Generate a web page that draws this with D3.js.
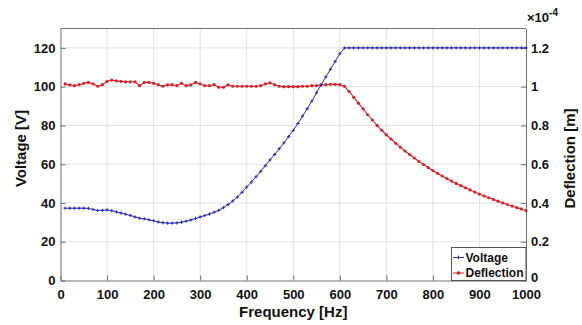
<!DOCTYPE html>
<html>
<head>
<meta charset="utf-8">
<script src="https://cdn.jsdelivr.net/npm/d3@7"></script>
<style>
  html, body { margin: 0; padding: 0; background: #fff; }
  svg { display: block; font-family: "Liberation Sans", Arial, sans-serif; }
</style>
</head>
<body>
<svg id="chart"></svg>
<script>
// ── Data ───────────────────────────────────────────────────────
const freq = [
  10, 20, 30, 40, 50, 60, 70, 80, 90, 100,
  110, 120, 130, 140, 150, 160, 170, 180, 190, 200,
  210, 220, 230, 240, 250, 260, 270, 280, 290, 300,
  310, 320, 330, 340, 350, 360, 370, 380, 390, 400,
  410, 420, 430, 440, 450, 460, 470, 480, 490, 500,
  510, 520, 530, 540, 550, 560, 570, 580, 590, 600,
  610, 620, 630, 640, 650, 660, 670, 680, 690, 700,
  710, 720, 730, 740, 750, 760, 770, 780, 790, 800,
  810, 820, 830, 840, 850, 860, 870, 880, 890, 900,
  910, 920, 930, 940, 950, 960, 970, 980, 990, 1000
];

// Voltage [V]
const voltage = [
  37.3, 37.3, 37.3, 37.3, 37.3, 37.2, 36.6, 36.1, 36.2, 36.4,
  36.0, 35.4, 34.8, 34.2, 33.6, 32.8, 32.1, 31.8, 31.3, 30.8,
  30.2, 29.8, 29.6, 29.6, 29.7, 30.1, 30.6, 31.2, 32.0, 32.8,
  33.5, 34.3, 35.2, 36.2, 37.6, 39.2, 41.0, 43.0, 45.5, 48.2,
  50.8, 53.5, 56.3, 59.2, 62.2, 65.0, 68.0, 71.0, 74.2, 77.5,
  81.0, 84.8, 88.6, 92.5, 96.8, 101.0, 105.0, 109.0, 113.0, 117.0,
  120, 120, 120, 120, 120, 120, 120, 120, 120, 120,
  120, 120, 120, 120, 120, 120, 120, 120, 120, 120,
  120, 120, 120, 120, 120, 120, 120, 120, 120, 120,
  120, 120, 120, 120, 120, 120, 120, 120, 120, 120
];

// Deflection [m], in units of 1e-4
const deflection = [
  1.014, 1.009, 1.005, 1.010, 1.017, 1.022, 1.014, 1.002, 1.010, 1.027,
  1.034, 1.030, 1.027, 1.025, 1.025, 1.025, 1.005, 1.022, 1.022, 1.017,
  1.010, 1.002, 1.009, 1.010, 1.005, 1.017, 1.005, 1.009, 1.022, 1.014,
  1.005, 1.005, 1.010, 0.997, 0.997, 1.009, 1.002, 1.002, 1.002, 1.002,
  1.002, 1.002, 1.005, 1.014, 1.020, 1.010, 1.002, 1.000, 1.000, 1.000,
  1.000, 1.002, 1.002, 1.005, 1.005, 1.009, 1.010, 1.012, 1.012, 1.010,
  1.002, 0.975, 0.945, 0.915, 0.885, 0.855, 0.828, 0.800, 0.775, 0.752,
  0.730, 0.708, 0.688, 0.668, 0.650, 0.632, 0.614, 0.598, 0.582, 0.567,
  0.553, 0.539, 0.526, 0.513, 0.501, 0.489, 0.478, 0.467, 0.456, 0.446,
  0.436, 0.427, 0.418, 0.409, 0.400, 0.392, 0.384, 0.376, 0.369, 0.360
];

const xTicks = [0, 100, 200, 300, 400, 500, 600, 700, 800, 900, 1000];
const yTicksLeft = [0, 20, 40, 60, 80, 100, 120];
const yTicksRight = [0, 0.2, 0.4, 0.6, 0.8, 1, 1.2];

// ── Layout ─────────────────────────────────────────────────────
const width = 582, height = 325;
const margin = { top: 28.5, right: 56, bottom: 44.5, left: 60.5 };
const innerW = width - margin.left - margin.right;
const innerH = height - margin.top - margin.bottom;

const BLUE = '#2a2ab4';
const RED = '#d8232a';
const AXIS = '#707070';
const GRID = '#e2e2e2';
const TEXT = '#111';

const svg = d3.select('#chart').attr('width', width).attr('height', height);
const g = svg.append('g').attr('transform', `translate(${margin.left},${margin.top})`);

const x = d3.scaleLinear().domain([0, 1000]).range([0, innerW]);
const yL = d3.scaleLinear().domain([0, 130]).range([innerH, 0]);
const yR = d3.scaleLinear().domain([0, 1.3]).range([innerH, 0]);

// ── Grid ───────────────────────────────────────────────────────
const grid = g.append('g').attr('class', 'grid');
grid.selectAll('.gx').data(xTicks.slice(1, -1)).join('line')
  .attr('x1', d => x(d)).attr('x2', d => x(d))
  .attr('y1', 0).attr('y2', innerH)
  .attr('stroke', GRID).attr('stroke-width', 1);
grid.selectAll('.gy').data(yTicksLeft.slice(1)).join('line')
  .attr('x1', 0).attr('x2', innerW)
  .attr('y1', d => yL(d)).attr('y2', d => yL(d))
  .attr('stroke', GRID).attr('stroke-width', 1);

// ── Axes ───────────────────────────────────────────────────────
function styleAxis(sel) {
  sel.selectAll('path, line').attr('stroke', AXIS);
  sel.selectAll('text')
    .attr('fill', TEXT)
    .attr('font-size', 13)
    .attr('font-weight', 'bold')
    .attr('font-family', '"Liberation Sans", Arial, sans-serif');
}

g.append('g')
  .attr('transform', `translate(0,${innerH})`)
  .call(d3.axisBottom(x).tickValues(xTicks).tickFormat(d3.format('d'))
    .tickSizeInner(-5).tickSizeOuter(0).tickPadding(9))
  .call(styleAxis);

g.append('g')
  .call(d3.axisLeft(yL).tickValues(yTicksLeft).tickFormat(d3.format('d'))
    .tickSizeInner(-5).tickSizeOuter(0).tickPadding(5))
  .call(styleAxis);

const rightAxis = g.append('g')
  .attr('transform', `translate(${innerW},0)`)
  .call(d3.axisRight(yR).tickValues(yTicksRight).tickFormat(d => d3.format('~g')(d))
    .tickSizeInner(-5).tickSizeOuter(0).tickPadding(5))
  .call(styleAxis);
// the bottom "0" sits just above the "1000" label, as in the source
rightAxis.selectAll('.tick').filter(d => d === 0).select('text').attr('dy', '0.1em');

// top border
g.append('line')
  .attr('x1', 0).attr('x2', innerW).attr('y1', 0).attr('y2', 0)
  .attr('stroke', AXIS);

// ── Series ─────────────────────────────────────────────────────
const vData = freq.map((f, i) => ({ f, v: voltage[i] }));
const dData = freq.map((f, i) => ({ f, v: deflection[i] }));

const lineV = d3.line().x(d => x(d.f)).y(d => yL(d.v));
const lineD = d3.line().x(d => x(d.f)).y(d => yR(d.v));

g.append('path').datum(dData)
  .attr('d', lineD).attr('fill', 'none')
  .attr('stroke', RED).attr('stroke-width', 1.1);
g.append('g').selectAll('circle').data(dData).join('circle')
  .attr('cx', d => x(d.f)).attr('cy', d => yR(d.v))
  .attr('r', 1.6).attr('fill', RED);

g.append('path').datum(vData)
  .attr('d', lineV).attr('fill', 'none')
  .attr('stroke', BLUE).attr('stroke-width', 1);
const plus = (cx, cy, s) => `M${cx - s},${cy}H${cx + s}M${cx},${cy - s}V${cy + s}`;
g.append('g').selectAll('path').data(vData).join('path')
  .attr('d', d => plus(x(d.f), yL(d.v), 1.6))
  .attr('stroke', BLUE).attr('stroke-width', 1).attr('fill', 'none');

// ── Axis labels ────────────────────────────────────────────────
const labelFont = sel => sel
  .attr('font-size', 15).attr('font-weight', 'bold')
  .attr('fill', TEXT).attr('text-anchor', 'middle');

svg.append('text')
  .attr('x', margin.left + innerW / 2).attr('y', 317)
  .text('Frequency [Hz]').call(labelFont);

svg.append('text')
  .attr('transform', `translate(26,${margin.top + innerH / 2 - 6}) rotate(-90)`)
  .text('Voltage [V]').call(labelFont);

svg.append('text')
  .attr('transform', `translate(575,${margin.top + innerH / 2 + 4}) rotate(-90)`)
  .text('Deflection [m]').call(labelFont);

// exponent label for right axis
const exp = svg.append('text')
  .attr('x', 527).attr('y', 22)
  .attr('font-size', 13).attr('font-weight', 'bold').attr('fill', TEXT);
exp.append('tspan').text('\u00d710');
exp.append('tspan').attr('dy', -6).attr('font-size', 10).text('-4');

// ── Legend ─────────────────────────────────────────────────────
const legendItems = [
  { name: 'Voltage', color: BLUE, marker: 'plus' },
  { name: 'Deflection', color: RED, marker: 'dot' }
];
const lg = g.append('g').attr('transform', `translate(${innerW - 74.5},${innerH - 33})`);
lg.append('rect')
  .attr('width', 74.5).attr('height', 33)
  .attr('fill', '#fff').attr('stroke', '#555').attr('stroke-width', 1);
legendItems.forEach((it, i) => {
  const cy = 10 + i * 15.5;
  const row = lg.append('g');
  row.append('line')
    .attr('x1', 1.5).attr('x2', 12.5).attr('y1', cy).attr('y2', cy)
    .attr('stroke', it.color).attr('stroke-width', 1);
  if (it.marker === 'plus') {
    row.append('path').attr('d', plus(7, cy, 1.8))
      .attr('stroke', it.color).attr('stroke-width', 1);
  } else {
    row.append('circle').attr('cx', 7).attr('cy', cy).attr('r', 1.8).attr('fill', it.color);
  }
  row.append('text')
    .attr('x', 14).attr('y', cy).attr('dy', '0.35em')
    .attr('font-size', 12).attr('font-weight', 'bold').attr('fill', TEXT)
    .text(it.name);
});
</script>
</body>
</html>
